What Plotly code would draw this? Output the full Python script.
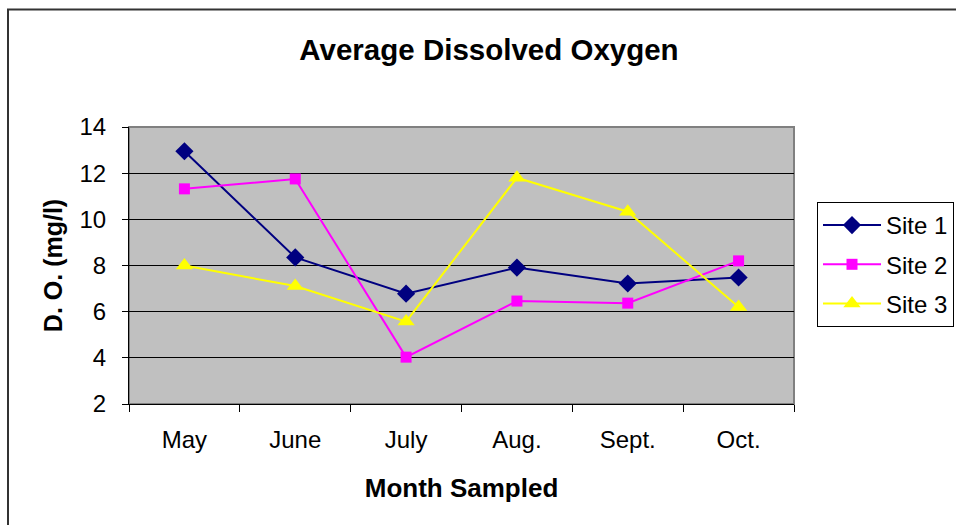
import plotly.graph_objects as go

months = ["May", "June", "July", "Aug.", "Sept.", "Oct."]
site1 = [12.95, 8.35, 6.78, 7.91, 7.22, 7.48]
site2 = [11.32, 11.75, 4.03, 6.46, 6.37, 8.2]
site3 = [8.0, 7.11, 5.57, 11.8, 10.33, 6.2]
y_ticks = [2, 4, 6, 8, 10, 12, 14]

FONT = "Liberation Sans, Arial, sans-serif"

fig = go.Figure()
fig.add_trace(go.Scatter(x=months, y=site1, name="Site 1", mode="lines+markers",
                         legendgroup="g1",
                         line=dict(color="#000080", width=2),
                         marker=dict(symbol="diamond", size=14, color="#000080")))
fig.add_trace(go.Scatter(x=months, y=site2, name="Site 2", mode="lines+markers",
                         legendgroup="g2",
                         line=dict(color="#FF00FF", width=2),
                         marker=dict(symbol="square", size=11, color="#FF00FF")))
fig.add_trace(go.Scatter(x=months, y=site3, name="Site 3", mode="lines+markers",
                         legendgroup="g3",
                         line=dict(color="#FFFF00", width=2),
                         marker=dict(symbol="triangle-up", size=15, color="#FFFF00")))

L, R, T, B = 129, 794, 127, 404
W, H = 956, 525
pw, ph = R - L, B - T

def px(x):
    return (x - L) / pw

def py(y):
    return (B - y) / ph

fig.update_layout(
    width=W, height=H,
    margin=dict(l=L, r=W - R, t=T, b=H - B, autoexpand=False),
    paper_bgcolor="white",
    plot_bgcolor="#C0C0C0",
    font=dict(family=FONT, size=24, color="black"),
    title=dict(text="<b>Average Dissolved Oxygen</b>", x=489 / W, xanchor="center",
               y=1 - 50 / H, yanchor="middle", xref="container", yref="container",
               font=dict(size=29.5, family=FONT)),
    showlegend=True,
    legend=dict(x=px(817), y=py(202), xanchor="left", yanchor="top",
                bordercolor="black", borderwidth=1, bgcolor="white",
                font=dict(size=24, family=FONT), tracegroupgap=5,
                itemwidth=58),
    shapes=[
        dict(type="rect", xref="paper", yref="paper", x0=0, x1=1, y0=0, y1=1,
             line=dict(color="#808080", width=2), layer="below"),
        dict(type="rect", xref="paper", yref="paper", x0=px(8), x1=px(1000),
             y0=py(560), y1=py(9.5), line=dict(color="#333333", width=2), layer="below"),
    ],
)

fig.update_xaxes(
    type="category", categoryorder="array", categoryarray=months,
    showline=True, linecolor="black", linewidth=1,
    ticks="outside", ticklen=7, tickcolor="black", tickson="boundaries",
    showgrid=False, ticklabelstandoff=14,
    tickfont=dict(size=24, family=FONT),
    title=dict(text="<b>Month Sampled</b>", font=dict(size=26, family=FONT), standoff=27),
    range=[-0.5, 5.5],
)
fig.update_yaxes(
    range=[2, 14], tickvals=y_ticks,
    showline=True, linecolor="black", linewidth=1,
    ticks="outside", ticklen=6, tickcolor="black",
    showgrid=True, gridcolor="black", gridwidth=1,
    tickfont=dict(size=24, family=FONT), ticklabelstandoff=11,
    title=dict(text="<b>D. O. (mg/l)</b>", font=dict(size=25, family=FONT), standoff=9),
    zeroline=False,
)

fig.write_html("out.html", config={"displayModeBar": False},
               post_script="document.body.style.margin='0';")
